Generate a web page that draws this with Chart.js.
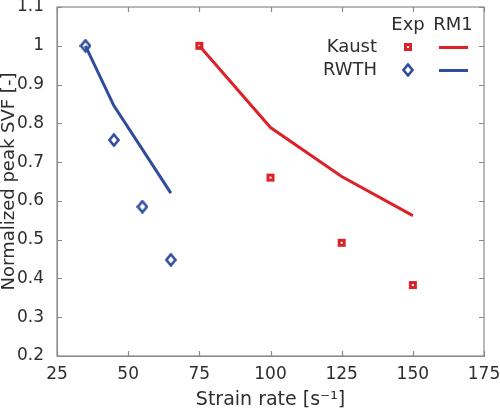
<!DOCTYPE html>
<html>
<head>
<meta charset="utf-8">
<script src="https://cdn.jsdelivr.net/npm/chart.js@4"></script>
<style>
  html, body { margin: 0; padding: 0; background: #fff; }
  #wrap { width: 500px; height: 413px; }
</style>
</head>
<body>
<div id="wrap"><canvas id="chart"></canvas></div>
<script>
const rwthRates = [35, 45, 55, 65]
const rwthExp   = [1.0, 0.757, 0.585, 0.448]
const rwthRm1   = [1.0, 0.845, 0.733, 0.620]

const kaustRates = [75, 100, 125, 150]
const kaustExp   = [1.0, 0.66, 0.492, 0.383]
const kaustRm1   = [1.0, 0.789, 0.663, 0.562]

const xTicks = [25, 50, 75, 100, 125, 150, 175]
const yTicks = [0.2, 0.3, 0.4, 0.5, 0.6, 0.7, 0.8, 0.9, 1, 1.1]

const red = "#dc2229"
const blue = "#2f4d9c"
const textColor = "#2e2e2e"
const axisColor = "#8a8a8a"
const fontFamily = "'DejaVu Sans', sans-serif"

const toPoints = (xs, ys) => xs.map((x, i) => ({ x: x, y: ys[i] }))

function squareMarker() {
  const c = document.createElement("canvas")
  c.width = 10; c.height = 10
  const g = c.getContext("2d")
  g.fillStyle = red
  g.fillRect(1, 1, 8, 8)
  g.fillStyle = "#fff"
  g.fillRect(4, 4, 2, 2)
  return c
}

function diamondMarker() {
  const c = document.createElement("canvas")
  c.width = 12; c.height = 14
  const g = c.getContext("2d")
  g.strokeStyle = blue
  g.lineWidth = 2.6
  g.beginPath()
  g.moveTo(6, 1.5); g.lineTo(10.5, 7); g.lineTo(6, 12.5); g.lineTo(1.5, 7)
  g.closePath()
  g.stroke()
  return c
}

const sq = squareMarker()
const dia = diamondMarker()

// matlab style box with inward ticks on all sides
const boxPlugin = {
  id: "box",
  afterDraw(chart) {
    const { ctx, chartArea: a, scales } = chart
    ctx.save()
    ctx.strokeStyle = axisColor
    ctx.lineWidth = 1.2
    ctx.strokeRect(a.left, a.top, a.right - a.left, a.bottom - a.top)
    ctx.beginPath()
    xTicks.forEach(v => {
      const px = Math.round(scales.x.getPixelForValue(v)) + 0.5
      ctx.moveTo(px, a.bottom); ctx.lineTo(px, a.bottom - 5)
      ctx.moveTo(px, a.top); ctx.lineTo(px, a.top + 5)
    })
    yTicks.forEach(v => {
      const py = Math.round(scales.y.getPixelForValue(v)) + 0.5
      ctx.moveTo(a.left, py); ctx.lineTo(a.left + 5, py)
      ctx.moveTo(a.right, py); ctx.lineTo(a.right - 5, py)
    })
    ctx.stroke()

    // legend
    ctx.fillStyle = textColor
    ctx.font = "18px " + fontFamily
    ctx.textBaseline = "middle"
    ctx.textAlign = "center"
    ctx.fillText("Exp", 408, 25)
    ctx.fillText("RM1", 453, 25)
    ctx.textAlign = "right"
    ctx.fillText("Kaust", 377, 47)
    ctx.fillText("RWTH", 377, 70)
    ctx.drawImage(sq, 403, 42)
    ctx.drawImage(dia, 402, 63)
    ctx.lineWidth = 3
    ctx.strokeStyle = red
    ctx.beginPath(); ctx.moveTo(439, 47.5); ctx.lineTo(468, 47.5); ctx.stroke()
    ctx.strokeStyle = blue
    ctx.beginPath(); ctx.moveTo(439, 70.5); ctx.lineTo(468, 70.5); ctx.stroke()
    ctx.restore()
  }
}

new Chart(document.getElementById("chart"), {
  type: "scatter",
  data: {
    datasets: [
      {
        label: "Kaust RM1",
        data: toPoints(kaustRates, kaustRm1),
        showLine: true,
        borderColor: red,
        borderWidth: 3,
        pointRadius: 0
      },
      {
        label: "RWTH RM1",
        data: toPoints(rwthRates, rwthRm1),
        showLine: true,
        borderColor: blue,
        borderWidth: 3,
        pointRadius: 0
      },
      {
        label: "Kaust Exp",
        data: toPoints(kaustRates, kaustExp),
        pointStyle: sq
      },
      {
        label: "RWTH Exp",
        data: toPoints(rwthRates, rwthExp),
        pointStyle: dia
      }
    ]
  },
  options: {
    responsive: true,
    maintainAspectRatio: false,
    animation: false,
    layout: { padding: { top: 7, right: 16, left: 0, bottom: 0 } },
    plugins: { legend: { display: false }, tooltip: { enabled: false } },
    scales: {
      x: {
        type: "linear",
        min: 25,
        max: 175,
        afterBuildTicks: axis => { axis.ticks = xTicks.map(v => ({ value: v })) },
        afterFit: axis => {
          axis.height = 57
          axis.paddingLeft = 0
          axis.paddingRight = 0
        },
        grid: { display: false },
        border: { color: axisColor },
        ticks: { color: textColor, font: { family: fontFamily, size: 17 }, padding: 0, maxRotation: 0 },
        title: { display: true, text: "Strain rate [s⁻¹]", color: textColor, font: { family: fontFamily, size: 19 }, padding: { top: 0, bottom: 2 } }
      },
      y: {
        type: "linear",
        min: 0.2,
        max: 1.1,
        afterBuildTicks: axis => { axis.ticks = yTicks.map(v => ({ value: v })) },
        afterFit: axis => {
          axis.width = 57
          axis.paddingTop = 0
          axis.paddingBottom = 0
        },
        grid: { display: false },
        border: { color: axisColor },
        ticks: { color: textColor, font: { family: fontFamily, size: 17 }, padding: 5, callback: v => String(v) },
        title: { display: true, text: "Normalized peak SVF [-]", color: textColor, font: { family: fontFamily, size: 18, lineHeight: 1 }, padding: { top: 0, bottom: 0 } }
      }
    }
  },
  plugins: [boxPlugin]
})
</script>
</body>
</html>
